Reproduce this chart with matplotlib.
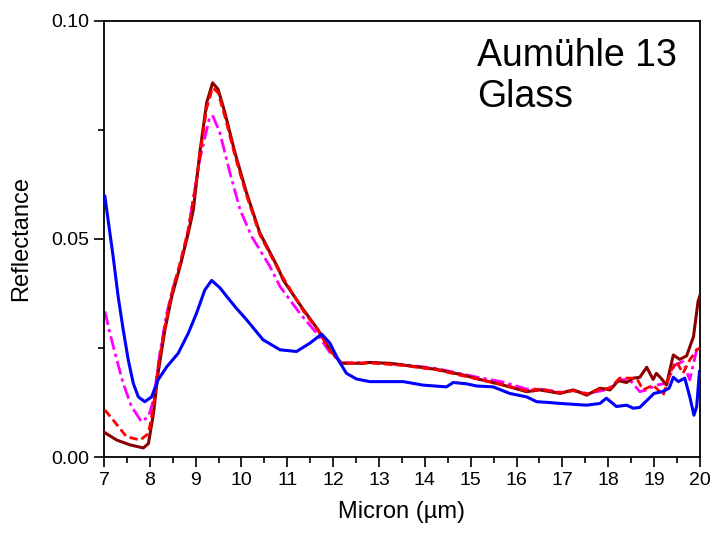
import numpy as np
import matplotlib.pyplot as plt

plt.rcParams['font.family'] = ['Liberation Sans', 'DejaVu Sans']

# --- spectra (micron, reflectance) ---
x_maroon = [7.02, 7.28, 7.57, 7.86, 7.97, 8.08, 8.18, 8.33, 8.48, 8.66, 8.84, 8.95, 9.09, 9.24,
            9.37, 9.49, 9.64, 9.86, 10.11, 10.4, 10.8, 10.91, 11.35, 11.67, 11.93, 12.18, 12.66,
            12.8, 13.24, 13.53, 14.26, 14.84, 15.2, 15.71, 16.22, 16.51, 16.95, 17.24, 17.53,
            17.82, 18.04, 18.22, 18.4, 18.55, 18.69, 18.84, 18.98, 19.05, 19.16, 19.27, 19.42,
            19.56, 19.71, 19.86, 19.96, 20.0]
y_maroon = [0.0056, 0.0039, 0.0028, 0.0021, 0.0031, 0.0100, 0.0192, 0.0292, 0.0368, 0.0437, 0.0514,
            0.0567, 0.0697, 0.0812, 0.0858, 0.0843, 0.0789, 0.0697, 0.0606, 0.0514, 0.0433, 0.0406,
            0.0338, 0.0292, 0.0246, 0.0215, 0.0215, 0.0217, 0.0215, 0.0211, 0.0201, 0.0188, 0.0178,
            0.0165, 0.0150, 0.0154, 0.0146, 0.0154, 0.0142, 0.0158, 0.0154, 0.0175, 0.0171, 0.0181,
            0.0183, 0.0206, 0.0178, 0.0192, 0.0180, 0.0165, 0.0234, 0.0224, 0.0232, 0.0276, 0.0357,
            0.0370]

x_red = [7.02, 7.2, 7.49, 7.79, 7.97, 8.08, 8.18, 8.33, 8.48, 8.66, 8.84, 9.02, 9.09, 9.24, 9.37,
         9.49, 9.64, 9.86, 10.11, 10.4, 10.8, 11.35, 11.67, 11.93, 12.18, 12.8, 13.53, 14.26, 14.84,
         15.2, 15.71, 16.22, 16.51, 16.95, 17.24, 17.53, 17.82, 18.04, 18.25, 18.62, 18.76, 18.98,
         19.2, 19.38, 19.49, 19.63, 19.78, 19.93, 20.0]
y_red = [0.0108, 0.0085, 0.0047, 0.0039, 0.0054, 0.0116, 0.0207, 0.0299, 0.0376, 0.0445, 0.0521,
         0.0636, 0.0690, 0.0800, 0.0847, 0.0835, 0.0780, 0.0690, 0.0600, 0.0510, 0.0430, 0.0335,
         0.0290, 0.0245, 0.0215, 0.0216, 0.0210, 0.0200, 0.0186, 0.0178, 0.0166, 0.0152, 0.0156,
         0.0148, 0.0152, 0.0145, 0.0156, 0.0158, 0.0181, 0.0181, 0.0154, 0.0165, 0.0142, 0.0200,
         0.0219, 0.0192, 0.0223, 0.0246, 0.0250]

x_magenta = [7.02, 7.13, 7.28, 7.42, 7.6, 7.82, 7.97, 8.08, 8.22, 8.37, 8.51, 8.66, 8.8, 9.09,
             9.31, 9.38, 9.53, 9.75, 9.97, 10.22, 10.62, 10.84, 11.27, 11.64, 11.93, 12.18, 12.8,
             13.53, 14.26, 14.84, 15.2, 15.71, 16.22, 16.51, 16.95, 17.24, 17.53, 17.96, 18.25,
             18.47, 18.69, 18.84, 19.05, 19.27, 19.45, 19.63, 19.78, 19.93, 20.0]
y_magenta = [0.0334, 0.0284, 0.0223, 0.0169, 0.0116, 0.0081, 0.0093, 0.0131, 0.0238, 0.0330, 0.0390,
             0.0437, 0.0498, 0.0682, 0.0781, 0.0781, 0.0743, 0.0651, 0.0567, 0.0506, 0.0437, 0.0391,
             0.0330, 0.0284, 0.0240, 0.0216, 0.0217, 0.0212, 0.0203, 0.0190, 0.0182, 0.0172, 0.0156,
             0.0156, 0.0149, 0.0153, 0.0146, 0.0154, 0.0178, 0.0177, 0.0150, 0.0154, 0.0165, 0.0169,
             0.0211, 0.0219, 0.0177, 0.0246, 0.0250]

x_blue = [7.02, 7.09, 7.2, 7.31, 7.42, 7.53, 7.64, 7.75, 7.89, 8.04, 8.18, 8.37, 8.62, 8.84, 9.02,
          9.2, 9.35, 9.53, 9.68, 9.89, 10.11, 10.47, 10.84, 11.2, 11.49, 11.75, 11.93, 12.11, 12.29,
          12.51, 12.8, 13.53, 13.96, 14.47, 14.62, 14.91, 15.13, 15.49, 15.85, 16.22, 16.44, 16.73,
          16.95, 17.53, 17.82, 17.96, 18.18, 18.4, 18.55, 18.69, 19.0, 19.18, 19.33, 19.42, 19.53,
          19.67, 19.78, 19.87, 19.93, 19.99]
y_blue = [0.0598, 0.0544, 0.0460, 0.0368, 0.0292, 0.0223, 0.0169, 0.0138, 0.0127, 0.0138, 0.0177,
          0.0207, 0.0238, 0.0284, 0.0330, 0.0383, 0.0405, 0.0388, 0.0368, 0.0341, 0.0315, 0.0269,
          0.0246, 0.0242, 0.0261, 0.0282, 0.0261, 0.0223, 0.0192, 0.0179, 0.0173, 0.0173, 0.0165,
          0.0161, 0.0171, 0.0168, 0.0163, 0.0161, 0.0146, 0.0138, 0.0127, 0.0125, 0.0123, 0.0119,
          0.0123, 0.0135, 0.0116, 0.0119, 0.0112, 0.0114, 0.0146, 0.0150, 0.0158, 0.0183, 0.0173,
          0.0181, 0.0138, 0.0096, 0.0116, 0.0196]

fig = plt.figure(figsize=(7.12, 5.34), dpi=100)
ax = fig.add_axes([0.146, 0.144, 0.837, 0.817])

ax.plot(x_maroon, y_maroon, color='#8B0000', lw=2.2, zorder=3)
ax.plot(x_red, y_red, color='#FF0000', lw=2.0, ls=(0, (3, 1.5)), zorder=4)
ax.plot(x_magenta, y_magenta, color='#FF00FF', lw=2.0, ls=(0, (5, 1.5, 1.2, 1.5)), zorder=2)
ax.plot(x_blue, y_blue, color='#0000FF', lw=2.2, zorder=5)

ax.set_xlim(7, 20)
ax.set_ylim(0, 0.10)
ax.set_xticks(np.arange(7, 21, 1))
ax.set_xticks(np.arange(7, 20.01, 0.5), minor=True)
ax.set_yticks([0, 0.05, 0.10])
ax.set_yticklabels(['0.00', '0.05', '0.10'])
ax.set_yticks([0.025, 0.075], minor=True)
ax.tick_params(which='major', direction='out', length=7, width=1.2, labelsize=14)
ax.tick_params(which='minor', direction='out', length=4, width=1.2)
for s in ax.spines.values():
    s.set_linewidth(1.3)

ax.set_xlabel('Micron (µm)', fontsize=17, labelpad=9)
ax.set_ylabel('Reflectance', fontsize=17, labelpad=14)

ax.text(0.626, 0.96, 'Aumühle 13\nGlass', transform=ax.transAxes, fontsize=27,
        va='top', ha='left', linespacing=1.18)

fig.savefig('out.png', dpi=100)
